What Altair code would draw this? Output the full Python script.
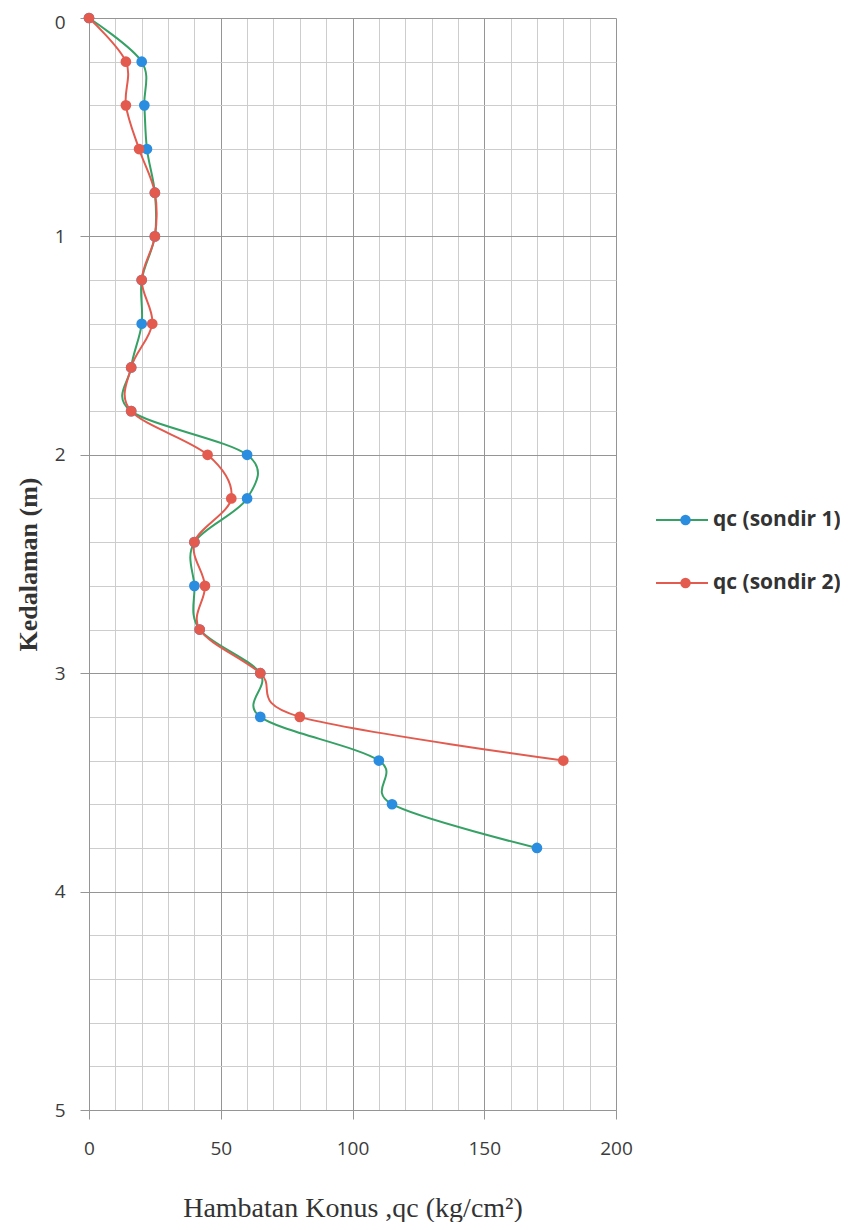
import altair as alt
import pandas as pd

# ---- data ----
series_names = ["qc (sondir 1)", "qc (sondir 2)"]

depth_1 = [0.0, 0.2, 0.4, 0.6, 0.8, 1.0, 1.2, 1.4, 1.6, 1.8,
           2.0, 2.2, 2.4, 2.6, 2.8, 3.0, 3.2, 3.4, 3.6, 3.8]
qc_1 = [0, 20, 21, 22, 25, 25, 20, 20, 16, 16,
        60, 60, 40, 40, 42, 65, 65, 110, 115, 170]

depth_2 = [0.0, 0.2, 0.4, 0.6, 0.8, 1.0, 1.2, 1.4, 1.6, 1.8,
           2.0, 2.2, 2.4, 2.6, 2.8, 3.0, 3.2, 3.4]
qc_2 = [0, 14, 14, 19, 25, 25, 20, 24, 16, 16,
        45, 54, 40, 44, 42, 65, 80, 180]

x_ticks = [0, 10, 20, 30, 40, 50, 60, 70, 80, 90, 100,
           110, 120, 130, 140, 150, 160, 170, 180, 190, 200]
y_ticks = [0.0, 0.2, 0.4, 0.6, 0.8, 1.0, 1.2, 1.4, 1.6, 1.8, 2.0,
           2.2, 2.4, 2.6, 2.8, 3.0, 3.2, 3.4, 3.6, 3.8, 4.0,
           4.2, 4.4, 4.6, 4.8, 5.0]

line_colors = ["#36a165", "#e35b4f"]
point_colors = ["#2b8de0", "#e35b4f"]

rows = []
for name, ds, qs in ((series_names[0], depth_1, qc_1),
                     (series_names[1], depth_2, qc_2)):
    for d, q in zip(ds, qs):
        rows.append({"series": name, "depth": d, "qc": q})
df = pd.DataFrame(rows)

MAJOR = "#959595"
MINOR = "#cdcdcd"

x_axis = alt.Axis(
    values=x_ticks,
    labelExpr="datum.value % 50 === 0 ? datum.label : ''",
    grid=True,
    gridColor={"condition": {"test": "datum.value % 50 === 0", "value": MAJOR}, "value": MINOR},
    gridWidth=1,
    tickSize=9,
    tickColor=MAJOR,
    tickOpacity={"condition": {"test": "datum.value % 50 === 0", "value": 1}, "value": 0},
    domainColor=MAJOR,
    labelFont="Open Sans",
    labelFontSize=19,
    labelColor="#3c3c3c",
    labelPadding=20,
    labelFlush=False,
    labelOverlap=False,
    titleFont="Liberation Serif",
    titleFontSize=28,
    titleFontWeight="normal",
    titleColor="#333333",
    titlePadding=36,
)

y_axis = alt.Axis(
    values=y_ticks,
    labelExpr="datum.value % 1 === 0 ? format(datum.value, 'd') : ''",
    grid=True,
    gridColor={"condition": {"test": "datum.value % 1 === 0", "value": MAJOR}, "value": MINOR},
    gridWidth=1,
    tickSize=9,
    tickColor=MAJOR,
    tickOpacity={"condition": {"test": "datum.value % 1 === 0", "value": 1}, "value": 0},
    domainColor=MAJOR,
    labelFont="Open Sans",
    labelFontSize=19,
    labelColor="#3c3c3c",
    labelPadding=15,
    labelOffset={"condition": {"test": "datum.value === 0", "value": 4}, "value": 0},
    labelFlush=False,
    labelOverlap=False,
    titleFont="Liberation Serif",
    titleFontSize=26,
    titleFontWeight="bold",
    titleColor="#333333",
    titlePadding=13,
)

base = alt.Chart(df).encode(
    x=alt.X("qc:Q", title="Hambatan Konus ,qc (kg/cm²)",
            scale=alt.Scale(domain=[0, 200], nice=False), axis=x_axis),
    y=alt.Y("depth:Q", title="Kedalaman (m)",
            scale=alt.Scale(domain=[0, 5], reverse=True, nice=False), axis=y_axis),
)

lines = base.mark_line(interpolate="cardinal", strokeWidth=2).encode(
    stroke=alt.Stroke(
        "series:N",
        scale=alt.Scale(domain=series_names, range=line_colors),
        legend=alt.Legend(
            title=None, orient="none", legendX=566, legendY=492,
            symbolType="stroke", symbolSize=2704, symbolStrokeWidth=2,
            labelFont="Open Sans", labelFontSize=21, labelFontWeight="bold",
            labelColor="#333333", labelOffset=4, rowPadding=42,
            clipHeight=20, padding=0,
        ),
    ),
    order=alt.Order("depth:Q"),
)

points = base.mark_circle(size=115, opacity=1, strokeWidth=0).encode(
    fill=alt.Fill(
        "series:N",
        scale=alt.Scale(range=point_colors),
        legend=alt.Legend(
            title=None, orient="none", legendX=586, legendY=492,
            symbolType="circle", symbolSize=110, symbolStrokeWidth=0,
            labelExpr="''", labelFontSize=21, rowPadding=42,
            clipHeight=20, padding=0, zindex=1,
        ),
    ),
)

chart = (
    alt.layer(lines, points)
    .properties(
        width=527,
        height=1092,
        padding={"left": 81, "top": 10, "right": 224, "bottom": 112},
        autosize=alt.AutoSizeParams(type="none"),
        background="white",
    )
    .configure_view(stroke=None)
)

chart.save("out.html", embed_options={"renderer": "svg", "actions": False})
